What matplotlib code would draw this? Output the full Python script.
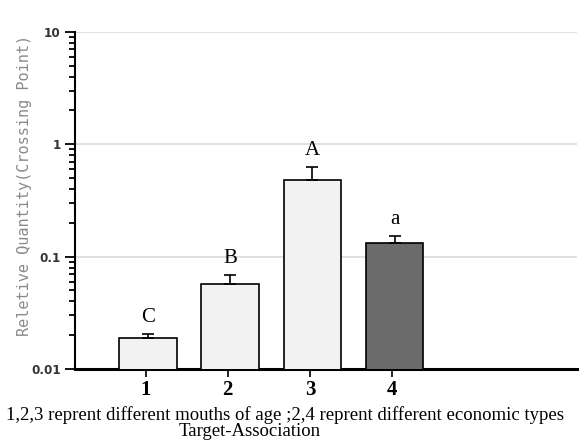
import matplotlib
matplotlib.use("Agg")
import matplotlib.pyplot as plt
from matplotlib.ticker import LogLocator, FixedLocator, FixedFormatter, NullFormatter

# data
categories = ["1", "2", "3", "4"]
values = [0.0189, 0.0574, 0.48, 0.133]
err_upper = [0.0015, 0.0112, 0.145, 0.020]
letters = ["C", "B", "A", "a"]
bar_colors = ["#f2f2f2", "#f2f2f2", "#f2f2f2", "#6b6b6b"]
ytick_vals = [0.01, 0.1, 1, 10]
ytick_labels = ["0.01", "0.1", "1", "10"]
xlabel_line1 = "1,2,3 reprent different mouths of age ;2,4 reprent different economic types"
xlabel_line2 = "Target-Association"
ylabel = "Reletive Quantity(Crossing Point)"

fig = plt.figure(figsize=(5.8, 4.43), dpi=100)
ax = fig.add_axes([0.129, 0.167, 0.866, 0.761])

x = list(range(1, len(categories) + 1))
ax.bar([xi + 0.03 for xi in x], values, width=0.7, color=bar_colors, edgecolor="black",
       linewidth=1.2, zorder=3)
ax.errorbar([xi + 0.03 for xi in x], values, yerr=[[0] * len(values), err_upper], fmt="none",
            ecolor="black", elinewidth=1.2, capsize=4, capthick=1.2, zorder=4)

for xi, v, e, lab in zip(x, values, err_upper, letters):
    ax.annotate(lab, (xi + 0.03, v + e), xytext=(0, 5), textcoords="offset points",
                ha="center", va="bottom", fontsize=15, family="Liberation Serif")

ax.set_yscale("log")
ax.set_ylim(0.01, 10)
ax.set_xlim(0.14, 6.25)

ax.yaxis.set_major_locator(FixedLocator(ytick_vals))
ax.yaxis.set_major_formatter(FixedFormatter(ytick_labels))
ax.yaxis.set_minor_locator(LogLocator(base=10, subs=range(2, 10)))
ax.yaxis.set_minor_formatter(NullFormatter())
ax.tick_params(axis="y", which="major", length=7, width=1.3, direction="out",
               labelsize=9.5, pad=3)
ax.tick_params(axis="y", which="minor", length=4, width=1.3, direction="out")
for t in ax.get_yticklabels():
    t.set_fontfamily("DejaVu Sans")
    t.set_fontstretch("condensed")
    t.set_fontweight("bold")
    t.set_color("#333333")

ax.set_xticks(x)
ax.set_xticklabels(categories, fontsize=15, fontweight="bold", family="Liberation Serif")
ax.tick_params(axis="x", length=6, width=1.2, direction="out", pad=2)

ax.grid(axis="y", which="major", color="#d9d9d9", linewidth=1.2, zorder=0)
ax.grid(axis="x", visible=False)

for s in ["top", "right"]:
    ax.spines[s].set_visible(False)
ax.spines["left"].set_linewidth(1.5)
ax.spines["bottom"].set_linewidth(2.2)

ax.set_ylabel(ylabel, family="DejaVu Sans Mono", fontsize=11, color="#8a8a8a")
ax.yaxis.set_label_coords(-0.086, 0.546)

fig.text(0.491, 0.062, xlabel_line1, ha="center", va="center", fontsize=13.5,
         family="Liberation Serif")
fig.text(0.43, 0.006, xlabel_line2, ha="center", va="bottom", fontsize=13.5,
         family="Liberation Serif")

fig.savefig("out.png", dpi=100)
